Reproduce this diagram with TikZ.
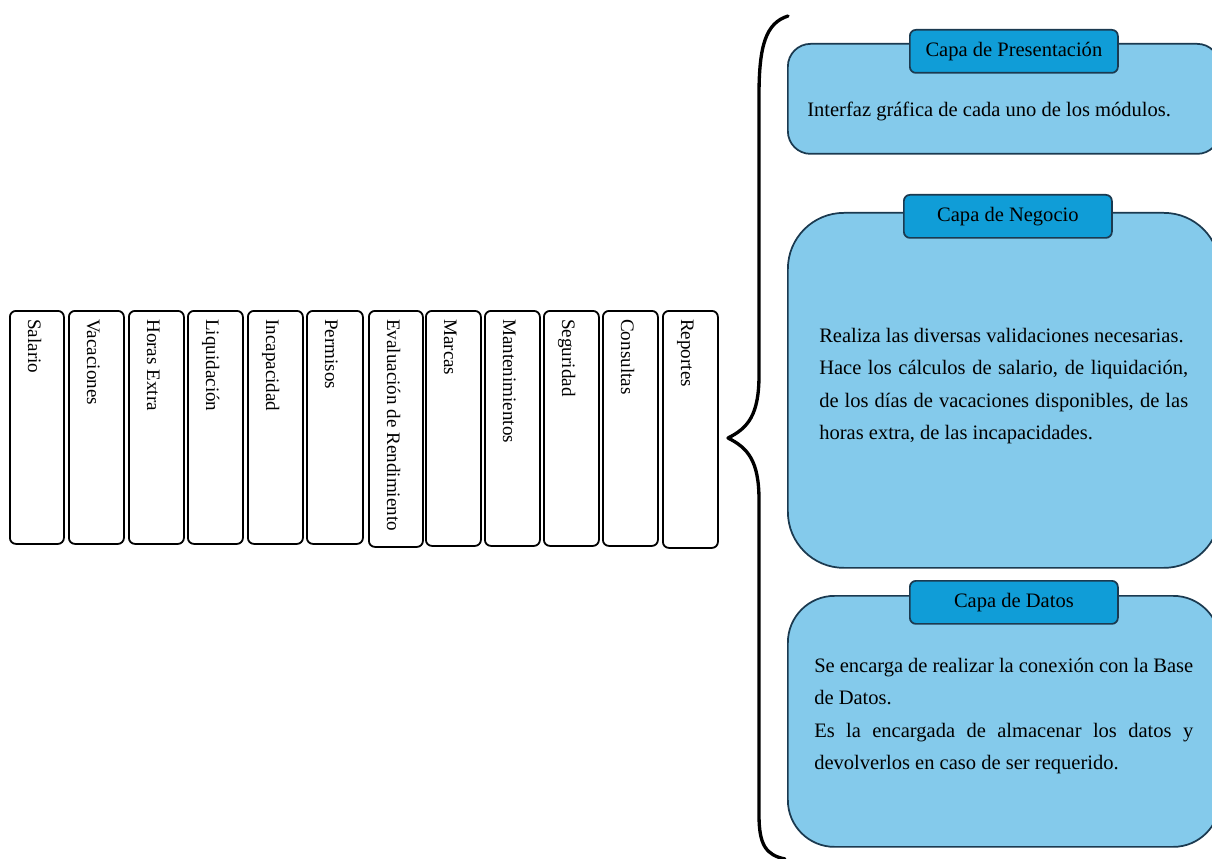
\documentclass[tikz,border=0pt]{standalone}
\usepackage{fontspec}
\setmainfont{Liberation Serif}
\definecolor{layerfill}{HTML}{84CAEB}
\definecolor{tabfill}{HTML}{109DD7}
\definecolor{edgeblue}{HTML}{1B3A50}
\begin{document}
\begin{tikzpicture}[x=0.75pt,y=-0.75pt,
  modbox/.style={draw=black, line width=1.35pt, rounded corners=4.5pt, inner sep=0pt, anchor=north west},
  modlabel/.style={rotate=-90, anchor=base west, inner sep=0pt, font=\fontsize{14.3}{17}\selectfont},
  layerbox/.style={draw=edgeblue, fill=layerfill, line width=1.3pt, inner sep=0pt, anchor=north west},
  tabbox/.style={draw=edgeblue, fill=tabfill, line width=1.3pt, rounded corners=4.5pt, inner sep=0pt,
     minimum width=156pt, minimum height=32.25pt, text height=11pt, text depth=4pt,
     font=\fontsize{15.4}{18}\selectfont, anchor=north west},
  bodytext/.style={anchor=base west, inner sep=0pt, font=\fontsize{15.4}{18}\selectfont},
  brace/.style={draw=black, line width=2.5pt, line cap=round, line join=round}
]
\useasboundingbox (0,0) rectangle (1212,859);

% module boxes
\foreach \l/\r/\b/\t [count=\i] in {
  9/63/543/Salario, 68/123/543/Vacaciones, 128/183/543/Horas Extra,
  187/242/543/Liquidación, 247/302/543/Incapacidad, 306/362/543/Permisos,
  368/422/546/Evaluación de Rendimiento, 425/480/545/Marcas,
  484/539/545/Mantenimientos, 543/598/545/Seguridad, 602/657/545/Consultas,
  662/717/547/Reportes} {
  \node[modbox, minimum width={(\r-\l)*0.75pt}, minimum height={(\b-310)*0.75pt}] (m\i) at (\l,310) {};
  \node[modlabel] (m\i t) at (\l+19,319) {\t};
}

% brace
\coordinate (bt) at (788,16);
\coordinate (bb) at (785,859);
\coordinate (btip) at (728,438);
\draw[brace] (bt) .. controls (766,23) and (759,45) .. (759,95) -- (759,375)
  .. controls (759,415) and (748,428) .. (btip)
  .. controls (748,448) and (759,461) .. (759,500) -- (759,815)
  .. controls (759,845) and (766,855) .. (bb);

% Capa de Presentación
\node[layerbox, rounded corners=17pt, minimum width=324pt, minimum height=82.5pt] (pres) at (787,43) {};
\node[tabbox] (prestab) at (909,29) {Capa de Presentación};
\node[bodytext] (prest) at (807,117) {Interfaz gráfica de cada uno de los módulos.};

% Capa de Negocio
\node[layerbox, rounded corners=42pt, minimum width=324pt, minimum height=266.25pt] (neg) at (787,212) {};
\node[tabbox] (negtab) at (903,194) {Capa de Negocio};
\node[bodytext] (negt1) at (819,342) {Realiza las diversas validaciones necesarias.};
\node[bodytext] (negt2) at (819,374.5) {\makebox[276.75pt][s]{Hace los cálculos de salario, de liquidación,}};
\node[bodytext] (negt3) at (819,407) {\makebox[276.75pt][s]{de los días de vacaciones disponibles, de las}};
\node[bodytext] (negt4) at (819,439.5) {horas extra, de las incapacidades.};

% Capa de Datos
\node[layerbox, rounded corners=35pt, minimum width=324pt, minimum height=188.25pt] (dat) at (787,595) {};
\node[tabbox] (dattab) at (909,580) {Capa de Datos};
\node[bodytext] (datt1) at (814,672) {\makebox[284.25pt][s]{Se encarga de realizar la conexión con la Base}};
\node[bodytext] (datt2) at (814,704.5) {de Datos.};
\node[bodytext] (datt3) at (814,737) {\makebox[284.25pt][s]{Es la encargada de almacenar los datos y}};
\node[bodytext] (datt4) at (814,769.5) {devolverlos en caso de ser requerido.};
\end{tikzpicture}
\end{document}
